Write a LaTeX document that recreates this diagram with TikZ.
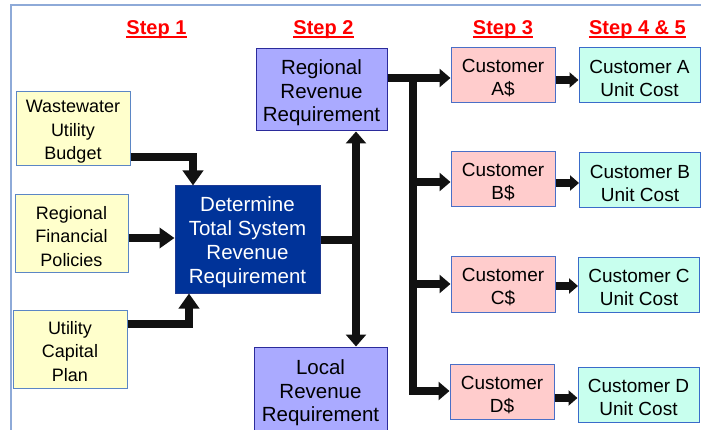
\documentclass[tikz,border=0pt]{standalone}
\usepackage{fontspec}
\setmainfont{Liberation Sans}
\usetikzlibrary{arrows.meta}
\newcommand{\tstrut}{\rule{0pt}{1em}}
\definecolor{framec}{HTML}{8EAAD8}
\definecolor{ylwfill}{HTML}{FFFFCC}
\definecolor{ylwdraw}{HTML}{5B86C5}
\definecolor{detfill}{HTML}{003399}
\definecolor{detdraw}{HTML}{1F3A93}
\definecolor{regfill}{HTML}{AAAAFF}
\definecolor{regdraw}{HTML}{2B2B9B}
\definecolor{pinkfill}{HTML}{FFCCCC}
\definecolor{pinkdraw}{HTML}{4A6FC7}
\definecolor{aquafill}{HTML}{C8FFEE}
\definecolor{aquadraw}{HTML}{3A6BC9}
\definecolor{arrowc}{HTML}{111111}
\begin{document}
\begin{tikzpicture}[x=1pt,y=-1pt,
  basebox/.style={draw, line width=1pt, align=center, inner sep=0pt},
  lbox/.style={basebox, fill=ylwfill, draw=ylwdraw, font=\fontsize{18}{23.5}\selectfont},
  dbox/.style={basebox, fill=detfill, draw=detdraw, text=white, font=\fontsize{20.5}{24}\selectfont},
  rbox/.style={basebox, fill=regfill, draw=regdraw, font=\fontsize{20.5}{23.5}\selectfont},
  cbox/.style={basebox, fill=pinkfill, draw=pinkdraw, font=\fontsize{19}{23}\selectfont, minimum width=104pt, minimum height=55pt},
  ubox/.style={basebox, fill=aquafill, draw=aquadraw, font=\fontsize{19}{23}\selectfont, minimum width=121pt, minimum height=55pt},
  steplbl/.style={text=red, font=\fontsize{20}{24}\selectfont\bfseries, inner sep=0pt, anchor=base},
  steprule/.style={red, line width=2pt},
  arrline/.style={arrowc, line width=8.5pt},
  arrbig/.style={arrline, -{Triangle[width=20pt,length=15pt]}},
  arrmid/.style={arrline, -{Triangle[width=18pt,length=11pt]}},
  arrboth/.style={arrline, {Triangle[width=20pt,length=12pt]}-{Triangle[width=20pt,length=12pt]}},
  arrsmall/.style={arrline, line width=8pt, -{Triangle[width=15pt,length=9pt]}}
]
\useasboundingbox (0,0) rectangle (701,430);
\draw[framec, line width=1.5pt] (11,440) -- (11,5) -- (710,5);

% step labels
\node[steplbl] (s1) at (156.5,35) {Step 1};
\node[steplbl] (s2) at (323.5,35) {Step 2};
\node[steplbl] (s3) at (503,35) {Step 3};
\node[steplbl] (s4) at (637.5,35) {Step 4 \& 5};
\foreach \s in {s1,s2,s3,s4}
  \draw[steprule] ([yshift=-2.2pt]\s.base west) -- ([yshift=-2.2pt]\s.base east);

% boxes
\node[lbox, minimum width=114pt, minimum height=74pt] (ww) at (73,129) {\tstrut Wastewater\\Utility\\Budget};
\node[lbox, minimum width=113pt, minimum height=78pt] (rf) at (71.5,234) {\tstrut Regional\\Financial\\Policies};
\node[lbox, minimum width=114pt, minimum height=78pt] (ucp) at (70,349) {\tstrut Utility\\Capital\\Plan};
\node[dbox, minimum width=145pt, minimum height=107pt] (det) at (247.5,239.5) {\tstrut Determine\\Total System\\Revenue\\Requirement};
\node[rbox, minimum width=131pt, minimum height=82pt] (reg) at (321.5,90) {\tstrut Regional\\Revenue\\Requirement};
\node[rbox, minimum width=133pt, minimum height=86pt] (loc) at (320.5,390) {\tstrut Local\\Revenue\\Requirement};

\node[cbox] (cA) at (503,75.5) {\tstrut Customer\\A\$};
\node[cbox] (cB) at (503,179.5) {\tstrut Customer\\B\$};
\node[cbox] (cC) at (503,284.5) {\tstrut Customer\\C\$};
\node[cbox] (cD) at (502,392) {\tstrut Customer\\D\$};

\node[ubox] (uA) at (639.5,75.5) {\tstrut Customer A\\Unit Cost};
\node[ubox] (uB) at (640,180.5) {\tstrut Customer B\\Unit Cost};
\node[ubox] (uC) at (639,285) {\tstrut Customer C\\Unit Cost};
\node[ubox] (uD) at (638.5,394.5) {\tstrut Customer D\\Unit Cost};

% step 1 arrows
\draw[arrbig] (ww.east |- 0,157) -| (det.north -| 193,0);
\draw[arrbig] (rf.east |- 0,238) -- (det.west |- 0,238);
\draw[arrbig] (ucp.east |- 0,324) -| (det.south -| 189,0);

% step 2
\draw[arrline] (det.east |- 0,240) -- (360,240);
\draw[arrboth] (reg.south -| 356,0) -- (loc.north -| 356,0);

% step 3
\draw[arrmid] (reg.east |- 0,78) -- (cA.west |- 0,78);
\draw[arrmid] (413,78) |- (cD.west |- 0,391);
\draw[arrmid] (413,182) -- (cB.west |- 0,182);
\draw[arrmid] (413,284) -- (cC.west |- 0,284);

% step 4 & 5
\draw[arrsmall] (cA.east |- 0,80) -- (uA.west |- 0,80);
\draw[arrsmall] (cB.east |- 0,183) -- (uB.west |- 0,183);
\draw[arrsmall] (cC.east |- 0,286) -- (uC.west |- 0,286);
\draw[arrsmall] (cD.east |- 0,398) -- (uD.west |- 0,398);
\end{tikzpicture}
\end{document}
